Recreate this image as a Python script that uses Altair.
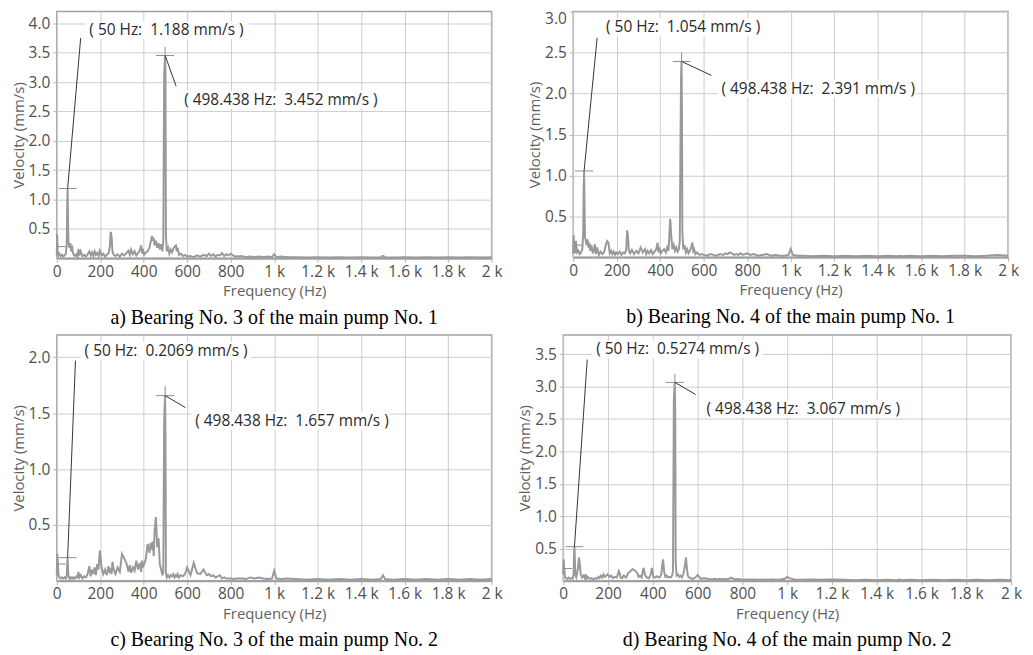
import altair as alt
import pandas as pd

# ---------------- data ----------------
freq = [0, 2, 4, 8, 12, 18, 24, 30, 36, 42,
        46, 48, 50, 52, 54, 58, 62, 66, 70, 74,
        78, 84, 90, 96, 100, 104, 110, 118, 126, 134,
        142, 150, 156, 162, 168, 174, 180, 186, 192, 198,
        206, 214, 222, 230, 238, 244, 248, 252, 256, 262,
        270, 280, 290, 300, 310, 320, 330, 336, 342, 350,
        358, 366, 374, 382, 388, 392, 396, 402, 410, 418,
        426, 432, 438, 442, 446, 450, 456, 462, 468, 474,
        480, 486, 490, 494, 496, 498, 500, 502, 506, 512,
        518, 524, 530, 536, 542, 548, 552, 556, 562, 570,
        580, 590, 600, 615, 630, 645, 660, 675, 690, 700,
        710, 720, 730, 740, 750, 760, 770, 780, 790, 800,
        815, 830, 850, 870, 890, 910, 930, 950, 970, 990,
        1000, 1010, 1030, 1060, 1100, 1150, 1200, 1250, 1300, 1350,
        1400, 1450, 1490, 1500, 1510, 1550, 1600, 1650, 1700, 1750,
        1800, 1850, 1900, 1950, 2000]

vel_a = [0.05, 0.41, 0.12, 0.05, 0.08, 0.04, 0.06, 0.03, 0.05, 0.08,
         0.25, 0.9, 1.188, 0.6, 0.27, 0.18, 0.26, 0.12, 0.22, 0.1,
         0.06, 0.04, 0.07, 0.03, 0.16, 0.05, 0.12, 0.04, 0.06, 0.03,
         0.07, 0.12, 0.05, 0.1, 0.04, 0.12, 0.06, 0.09, 0.04, 0.13,
         0.05, 0.08, 0.03, 0.06, 0.09, 0.2, 0.45, 0.38, 0.12, 0.06,
         0.04, 0.07, 0.03, 0.08, 0.05, 0.09, 0.13, 0.06, 0.15, 0.07,
         0.12, 0.05, 0.09, 0.14, 0.22, 0.08, 0.16, 0.06, 0.1, 0.12,
         0.18, 0.28, 0.38, 0.3, 0.35, 0.22, 0.3, 0.18, 0.26, 0.15,
         0.24, 0.12, 0.3, 3.1, 3.3, 3.452, 3.2, 0.4, 0.12, 0.18,
         0.08, 0.15, 0.1, 0.16, 0.2, 0.22, 0.12, 0.18, 0.06, 0.08,
         0.04, 0.06, 0.03, 0.04, 0.02, 0.05, 0.03, 0.06, 0.04, 0.08,
         0.04, 0.07, 0.03, 0.06, 0.05, 0.09, 0.04, 0.07, 0.05, 0.08,
         0.04, 0.03, 0.04, 0.02, 0.03, 0.02, 0.03, 0.02, 0.03, 0.02,
         0.07, 0.02, 0.03, 0.02, 0.02, 0.015, 0.02, 0.015, 0.02, 0.015,
         0.02, 0.015, 0.02, 0.04, 0.02, 0.015, 0.02, 0.015, 0.02, 0.015,
         0.02, 0.015, 0.02, 0.015, 0.02]

vel_b = [0.04, 0.27, 0.1, 0.05, 0.2, 0.06, 0.08, 0.04, 0.06, 0.1,
         0.3, 0.8, 1.054, 0.64, 0.25, 0.2, 0.15, 0.22, 0.12, 0.18,
         0.08, 0.15, 0.05, 0.1, 0.16, 0.04, 0.12, 0.03, 0.07, 0.04,
         0.06, 0.15, 0.2, 0.18, 0.05, 0.08, 0.04, 0.07, 0.03, 0.06,
         0.04, 0.07, 0.03, 0.06, 0.05, 0.1, 0.33, 0.25, 0.08, 0.05,
         0.09, 0.04, 0.08, 0.05, 0.12, 0.06, 0.1, 0.04, 0.08, 0.05,
         0.09, 0.04, 0.07, 0.1, 0.18, 0.06, 0.12, 0.05, 0.08, 0.1,
         0.06, 0.12, 0.08, 0.25, 0.47, 0.3, 0.1, 0.15, 0.08, 0.12,
         0.07, 0.1, 0.2, 1.6, 2.2, 2.391, 1.85, 0.3, 0.1, 0.15,
         0.06, 0.1, 0.05, 0.08, 0.12, 0.18, 0.08, 0.1, 0.04, 0.06,
         0.03, 0.04, 0.03, 0.02, 0.04, 0.03, 0.02, 0.04, 0.03, 0.05,
         0.04, 0.06, 0.05, 0.03, 0.04, 0.03, 0.05, 0.03, 0.04, 0.05,
         0.03, 0.04, 0.02, 0.03, 0.04, 0.02, 0.03, 0.02, 0.02, 0.03,
         0.1, 0.03, 0.02, 0.02, 0.015, 0.02, 0.015, 0.02, 0.015, 0.02,
         0.015, 0.02, 0.015, 0.02, 0.015, 0.02, 0.015, 0.02, 0.015, 0.02,
         0.02, 0.015, 0.02, 0.03, 0.02]

vel_c = [0.05, 0.24, 0.2, 0.05, 0.03, 0.02, 0.03, 0.02, 0.03, 0.02,
         0.05, 0.15, 0.2069, 0.1, 0.04, 0.02, 0.03, 0.02, 0.03, 0.02,
         0.03, 0.02, 0.04, 0.03, 0.08, 0.03, 0.05, 0.02, 0.04, 0.03,
         0.06, 0.13, 0.04, 0.1, 0.06, 0.12, 0.05, 0.15, 0.1, 0.27,
         0.12, 0.06, 0.1, 0.05, 0.13, 0.07, 0.11, 0.06, 0.17, 0.1,
         0.06, 0.12, 0.08, 0.24, 0.2, 0.16, 0.08, 0.14, 0.07, 0.12,
         0.09, 0.18, 0.1, 0.16, 0.08, 0.18, 0.12, 0.15, 0.2, 0.33,
         0.25, 0.34, 0.28, 0.35, 0.22, 0.45, 0.57, 0.3, 0.38, 0.15,
         0.1, 0.05, 0.08, 1.4, 1.55, 1.657, 1.3, 0.08, 0.03, 0.05,
         0.03, 0.05, 0.04, 0.06, 0.03, 0.05, 0.04, 0.06, 0.03, 0.05,
         0.04, 0.06, 0.12, 0.05, 0.16, 0.07, 0.06, 0.1, 0.05, 0.06,
         0.04, 0.05, 0.03, 0.04, 0.05, 0.02, 0.03, 0.02, 0.02, 0.02,
         0.015, 0.02, 0.02, 0.015, 0.03, 0.02, 0.03, 0.02, 0.015, 0.02,
         0.09, 0.02, 0.015, 0.02, 0.015, 0.01, 0.015, 0.01, 0.015, 0.01,
         0.015, 0.01, 0.015, 0.05, 0.015, 0.01, 0.015, 0.01, 0.015, 0.01,
         0.015, 0.01, 0.015, 0.01, 0.015]

vel_d = [0.1, 0.33, 0.2, 0.05, 0.04, 0.03, 0.05, 0.03, 0.04, 0.03,
         0.1, 0.4, 0.5274, 0.3, 0.08, 0.05, 0.12, 0.2, 0.36, 0.25,
         0.1, 0.05, 0.08, 0.04, 0.1, 0.03, 0.06, 0.03, 0.04, 0.02,
         0.04, 0.03, 0.06, 0.04, 0.08, 0.05, 0.1, 0.06, 0.08, 0.1,
         0.06, 0.08, 0.04, 0.06, 0.05, 0.1, 0.15, 0.12, 0.05, 0.04,
         0.08, 0.05, 0.12, 0.15, 0.18, 0.16, 0.12, 0.06, 0.08, 0.05,
         0.2, 0.08, 0.05, 0.04, 0.08, 0.12, 0.2, 0.06, 0.05, 0.07,
         0.05, 0.06, 0.1, 0.25, 0.33, 0.15, 0.06, 0.08, 0.05, 0.06,
         0.05, 0.08, 0.15, 2.8, 2.95, 3.067, 2.6, 0.3, 0.08, 0.1,
         0.06, 0.08, 0.05, 0.1, 0.2, 0.36, 0.2, 0.08, 0.05, 0.04,
         0.03, 0.05, 0.09, 0.03, 0.04, 0.03, 0.02, 0.03, 0.02, 0.03,
         0.02, 0.03, 0.02, 0.03, 0.05, 0.03, 0.02, 0.03, 0.02, 0.02,
         0.02, 0.015, 0.02, 0.015, 0.02, 0.015, 0.02, 0.015, 0.02, 0.03,
         0.06, 0.04, 0.02, 0.015, 0.02, 0.015, 0.02, 0.015, 0.01, 0.015,
         0.01, 0.015, 0.01, 0.02, 0.01, 0.015, 0.01, 0.015, 0.01, 0.015,
         0.01, 0.015, 0.01, 0.015, 0.01]

x_ticks = [0, 200, 400, 600, 800, 1000, 1200, 1400, 1600, 1800, 2000]
y_ticks_a = [0.5, 1.0, 1.5, 2.0, 2.5, 3.0, 3.5, 4.0]
y_ticks_b = [0.5, 1.0, 1.5, 2.0, 2.5, 3.0]
y_ticks_c = [0.5, 1.0, 1.5, 2.0]
y_ticks_d = [0.5, 1.0, 1.5, 2.0, 2.5, 3.0, 3.5]
y_max = [4.2, 3.0, 2.2, 3.8]

peak_freqs = [50, 498.438]
peak_vals_a = [1.188, 3.452]
peak_vals_b = [1.054, 2.391]
peak_vals_c = [0.2069, 1.657]
peak_vals_d = [0.5274, 3.067]

NB = "\u00a0"
label_text_a = ["( 50 Hz: " + NB + "1.188 mm/s )", "( 498.438 Hz: " + NB + "3.452 mm/s )"]
label_text_b = ["( 50 Hz: " + NB + "1.054 mm/s )", "( 498.438 Hz: " + NB + "2.391 mm/s )"]
label_text_c = ["( 50 Hz: " + NB + "0.2069 mm/s )", "( 498.438 Hz: " + NB + "1.657 mm/s )"]
label_text_d = ["( 50 Hz: " + NB + "0.5274 mm/s )", "( 498.438 Hz: " + NB + "3.067 mm/s )"]

label_x_a = [150, 586]
label_y_a = [3.88, 2.70]
label_x_b = [151, 682]
label_y_b = [2.81, 2.06]
label_x_c = [128, 637]
label_y_c = [2.06, 1.43]
label_x_d = [147, 640]
label_y_d = [3.58, 2.66]

leader_x_a = [110, 549]
leader_y_a = [3.75, 2.93]
leader_x_b = [110, 636]
leader_y_b = [2.68, 2.22]
leader_x_c = [86, 592]
leader_y_c = [1.97, 1.55]
leader_x_d = [107, 591]
leader_y_d = [3.42, 2.88]

cursor_top = [3.6, 2.5, 1.74, 3.2]
low_marker = [0.2, 0.15, 0.15, 0.19]

captions = ["a) Bearing No. 3 of the main pump No. 1",
            "b) Bearing No. 4 of the main pump No. 1",
            "c) Bearing No. 3 of the main pump No. 2",
            "d) Bearing No. 4 of the main pump No. 2"]

FONT = "Open Sans"
ANN_SIZE = 15.5


def panel(vals, ymax, yticks, pvals, ltext, lx, ly, ex, ey, ctop, lowm,
          caption, w, h, flush_top=False):
    xs = alt.Scale(domain=[0, 2000], nice=False, zero=False)
    ys = alt.Scale(domain=[0, ymax], nice=False, zero=False)
    df = pd.DataFrame({"f": freq, "v": vals})
    x_axis = alt.Axis(values=x_ticks, tickCount=20, title="Frequency (Hz)", labelFlush=False,
                      labelOverlap=False,
                      labelExpr="datum.value >= 1000 ? (datum.value / 1000) + ' k' : '' + datum.value")
    y_axis = alt.Axis(values=yticks, tickCount=20, format=".1f", title="Velocity (mm/s)",
                      labelFlush=flush_top, labelOverlap=False)
    line = alt.Chart(df).mark_line(color="#999999", strokeWidth=2).encode(
        x=alt.X("f:Q", scale=xs, axis=x_axis, title="Frequency (Hz)"),
        y=alt.Y("v:Q", scale=ys, axis=y_axis, title="Velocity (mm/s)"),
    )
    hz_per_px = 2000.0 / w
    u_per_px = ymax / h
    mk = pd.DataFrame({
        "x0": [peak_freqs[0] - 9 * hz_per_px, peak_freqs[1] - 9 * hz_per_px, 0, peak_freqs[1]],
        "x1": [peak_freqs[0] + 9 * hz_per_px, peak_freqs[1] + 9 * hz_per_px, 9 * hz_per_px, peak_freqs[1]],
        "y0": [pvals[0], pvals[1], lowm, pvals[1]],
        "y1": [pvals[0], pvals[1], lowm, ctop],
    })
    markers = alt.Chart(mk).mark_rule(color="#8c8c8c", strokeWidth=1).encode(
        x=alt.X("x0:Q", scale=xs, title="Frequency (Hz)"), x2="x1:Q",
        y=alt.Y("y0:Q", scale=ys, title="Velocity (mm/s)"), y2="y1:Q")
    ld = pd.DataFrame({"x0": peak_freqs, "y0": pvals, "x1": ex, "y1": ey})
    leaders = alt.Chart(ld).mark_rule(color="#333333", strokeWidth=1).encode(
        x=alt.X("x0:Q", scale=xs, title="Frequency (Hz)"), x2="x1:Q",
        y=alt.Y("y0:Q", scale=ys, title="Velocity (mm/s)"), y2="y1:Q")
    bx = pd.DataFrame({
        "x0": [lx[i] - 4 * hz_per_px for i in range(2)],
        "x1": [lx[i] + (len(ltext[i]) * 7.1 + 4) * hz_per_px for i in range(2)],
        "y0": [ly[i] - 9 * u_per_px for i in range(2)],
        "y1": [ly[i] + 9 * u_per_px for i in range(2)],
    })
    boxes = alt.Chart(bx).mark_rect(color="white").encode(
        x=alt.X("x0:Q", scale=xs, title="Frequency (Hz)"), x2="x1:Q",
        y=alt.Y("y0:Q", scale=ys, title="Velocity (mm/s)"), y2="y1:Q")
    tx = pd.DataFrame({"x": lx, "y": ly, "t": ltext})
    texts = alt.Chart(tx).mark_text(align="left", baseline="middle", font=FONT,
                                    fontSize=ANN_SIZE, color="#2a2a2a").encode(
        x=alt.X("x:Q", scale=xs, title="Frequency (Hz)"),
        y=alt.Y("y:Q", scale=ys, title="Velocity (mm/s)"), text="t:N")
    return alt.layer(line, boxes, markers, leaders, texts).properties(
        width=w, height=h,
        title=alt.TitleParams(caption, orient="bottom", anchor="middle", offset=9,
                              font="Liberation Serif", fontSize=20,
                              fontWeight="normal", color="#000000"))


pa = panel(vel_a, y_max[0], y_ticks_a, peak_vals_a, label_text_a, label_x_a, label_y_a,
           leader_x_a, leader_y_a, cursor_top[0], low_marker[0], captions[0], 437, 248)
pb = panel(vel_b, y_max[1], y_ticks_b, peak_vals_b, label_text_b, label_x_b, label_y_b,
           leader_x_b, leader_y_b, cursor_top[1], low_marker[1], captions[1], 437, 247,
           flush_top=True)
pc = panel(vel_c, y_max[2], y_ticks_c, peak_vals_c, label_text_c, label_x_c, label_y_c,
           leader_x_c, leader_y_c, cursor_top[2], low_marker[2], captions[2], 437, 247)
pd_ = panel(vel_d, y_max[3], y_ticks_d, peak_vals_d, label_text_d, label_x_d, label_y_d,
            leader_x_d, leader_y_d, cursor_top[3], low_marker[3], captions[3], 450, 247)

row1 = alt.hconcat(pa, pb, spacing=82, bounds="flush")
row2 = alt.hconcat(pc, pd_, spacing=72, bounds="flush")
chart = alt.vconcat(row1, row2, spacing=5).configure(
    padding={"left": 2, "top": 0, "right": 2, "bottom": 0}, background="white"
).configure_view(
    stroke="#a3a3a3", strokeWidth=1.5
).configure_axis(
    labelFont=FONT, labelFontSize=15.5, labelColor="#505050",
    titleFont=FONT, titleFontSize=15, titleFontWeight="normal", titleColor="#606060",
    gridColor="#cdcdcd", gridWidth=1, tickColor="#b5b5b5", tickSize=4,
    domain=False, labelPadding=2
).configure_axisX(
    domain=True, domainColor="#a0a0a0", domainWidth=2, titlePadding=4
).configure_axisY(
    titlePadding=2, labelPadding=3
)

chart.save("out.html", embed_options={"renderer": "svg", "actions": False})
